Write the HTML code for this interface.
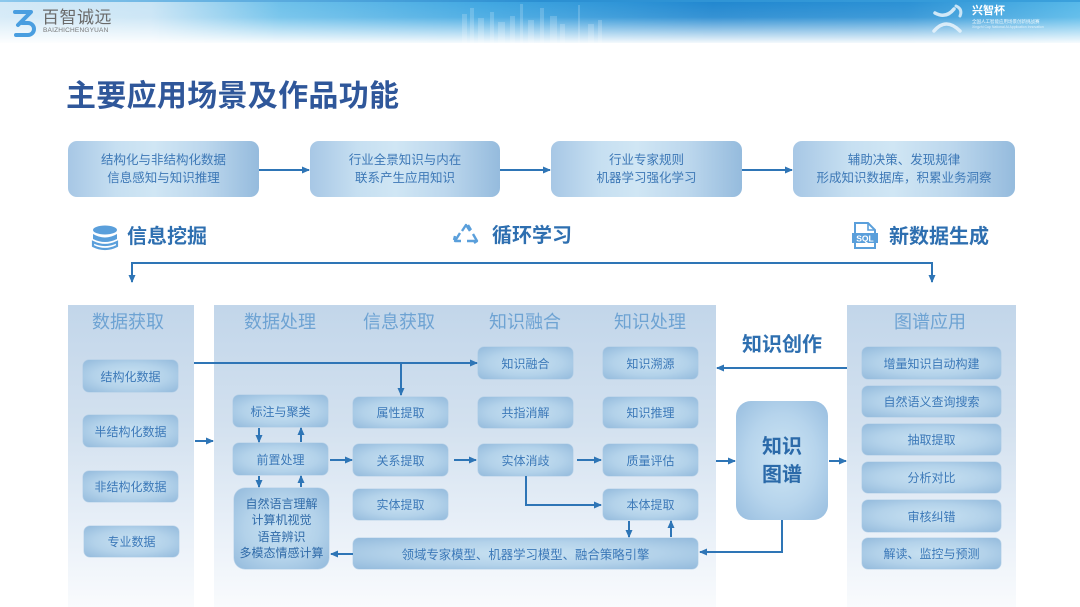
<!DOCTYPE html>
<html><head><meta charset="utf-8">
<style>
*{margin:0;padding:0;box-sizing:border-box}
body{width:1080px;height:607px;overflow:hidden;background:#fff;font-family:"Liberation Sans","Noto Sans CJK SC",sans-serif;position:relative}
.abs{position:absolute}
.banner{position:absolute;left:0;top:0;width:1080px;height:43px;
background:linear-gradient(to bottom,rgba(255,255,255,0) 0%,rgba(255,255,255,0.1) 40%,rgba(255,255,255,0.95) 100%),
linear-gradient(to right,#d3e9f7 0%,#c8e4f5 14%,#6cc0ea 26%,#3ea6e1 45%,#1f86cf 66%,#2990d4 84%,#55b8e9 100%);}
.bar{position:absolute;left:0;top:0;width:1080px;height:2px;background:linear-gradient(to right,#8cc8ec,#2b8fd2 50%,#3aa0dc)}
.title{position:absolute;left:66px;top:71px;font-size:30px;font-weight:bold;color:#2f579a;letter-spacing:0.3px;white-space:nowrap}
.fb{position:absolute;top:141px;height:56px;border-radius:9px;
background:linear-gradient(to right,#a7c7e5 0%,#c6dff1 25%,#d0e6f4 45%,#bcd7ed 72%,#95bbdd 100%);
color:#3d78b6;font-size:12.5px;line-height:18px;display:flex;align-items:center;justify-content:center;text-align:center}
.sec{position:absolute;font-size:20px;font-weight:bold;color:#2e6fb0;white-space:nowrap;line-height:24px}
.panel{position:absolute;top:305px;height:302px;background:linear-gradient(to bottom,#c2d6ea 0%,#d3e1ef 40%,#e6eef7 70%,#f9fbfd 100%)}
.pt{position:absolute;top:311px;font-size:18px;color:#6ea3d3;white-space:nowrap;transform:translateX(-50%);line-height:22px}
.b{position:absolute;border-radius:6px;background:radial-gradient(ellipse at 50% 50%,#c9e2f2 0%,#b3d2ea 55%,#93badc 100%);
color:#3b78b8;font-size:12px;display:flex;align-items:center;justify-content:center;text-align:center;white-space:nowrap;box-shadow:0 0 0 0.5px rgba(160,195,225,0.6)}
.kg{position:absolute;left:736px;top:401px;width:92px;height:119px;border-radius:15px;
background:radial-gradient(ellipse at 50% 50%,#cde5f4 0%,#b6d4ec 55%,#97bddf 100%);
color:#2b6aa9;font-size:20px;font-weight:bold;line-height:28px;display:flex;align-items:center;justify-content:center;text-align:center}
svg.ov{position:absolute;left:0;top:0}
</style></head>
<body>
<div class="banner"></div>
<div class="bar"></div>
<!-- skyline hint -->
<svg class="ov" width="1080" height="43" style="opacity:0.18">
<g fill="#ffffff">
<rect x="462" y="14" width="5" height="29"/><rect x="470" y="8" width="4" height="35"/><rect x="478" y="18" width="6" height="25"/>
<rect x="490" y="12" width="4" height="31"/><rect x="498" y="22" width="7" height="21"/><rect x="510" y="16" width="5" height="27"/>
<rect x="520" y="4" width="3" height="39"/><rect x="528" y="20" width="6" height="23"/><rect x="540" y="8" width="4" height="35"/>
<rect x="550" y="16" width="7" height="27"/><rect x="560" y="24" width="5" height="19"/><rect x="578" y="5" width="2" height="38"/>
<rect x="588" y="24" width="6" height="19"/><rect x="598" y="20" width="4" height="23"/>
</g></svg>
<!-- logo left -->
<svg class="ov" width="30" height="30" style="left:12px;top:9px">
<path d="M3 3 H19 L6 16" fill="none" stroke="#4a9ee0" stroke-width="4" stroke-linejoin="round" stroke-linecap="round"/>
<path d="M10 14 H16 A6 6 0 0 1 16 26 H4" fill="none" stroke="#4a9ee0" stroke-width="4" stroke-linecap="round"/>
</svg>
<div class="abs" style="left:42px;top:9px;font-size:17px;line-height:18px;color:#6a6a6a;letter-spacing:0.5px;white-space:nowrap">百智诚远</div>
<div class="abs" style="left:43px;top:27px;font-size:6.5px;line-height:7px;color:#777;letter-spacing:0.2px;white-space:nowrap">BAIZHICHENGYUAN</div>
<!-- logo right -->
<svg class="ov" width="40" height="36" style="left:930px;top:3px">
<path d="M5 10 Q16 16 24 6" fill="none" stroke="#eaf5fc" stroke-width="3.5" opacity="0.85" stroke-linecap="round"/>
<path d="M26 3 Q33 6 30 13" fill="none" stroke="#eaf5fc" stroke-width="3" opacity="0.8" stroke-linecap="round"/>
<path d="M4 28 Q16 14 30 28" fill="none" stroke="#eaf5fc" stroke-width="3.5" opacity="0.85" stroke-linecap="round"/>
</svg>
<div class="abs" style="left:972px;top:5px;font-size:11px;line-height:12px;font-weight:bold;color:#fff;white-space:nowrap">兴智杯</div>
<div class="abs" style="left:972px;top:19px;font-size:4.5px;line-height:5px;color:#fff;white-space:nowrap;opacity:0.9">全国人工智能应用场景创新挑战赛</div>
<div class="abs" style="left:972px;top:25px;font-size:3.5px;line-height:4px;color:#fff;white-space:nowrap;opacity:0.7">Xingzhi Cup National AI Application Innovation</div>

<div class="title">主要应用场景及作品功能</div>

<!-- top flow -->
<div class="fb" style="left:68px;width:191px">结构化与非结构化数据<br>信息感知与知识推理</div>
<div class="fb" style="left:310px;width:190px">行业全景知识与内在<br>联系产生应用知识</div>
<div class="fb" style="left:551px;width:191px">行业专家规则<br>机器学习强化学习</div>
<div class="fb" style="left:793px;width:222px">辅助决策、发现规律<br>形成知识数据库，积累业务洞察</div>

<!-- section heads -->
<svg class="ov" width="30" height="26" style="left:91px;top:225px">
<ellipse cx="14" cy="5" rx="12" ry="4.5" fill="#5a9fdb"/>
<path d="M2 9 Q14 16 26 9 V14 Q14 20 2 14 Z" fill="#5a9fdb"/>
<path d="M2 17 Q14 23 26 17 V21 Q14 27 2 21 Z" fill="none" stroke="#5a9fdb" stroke-width="2.2"/>
</svg>
<div class="sec" style="left:127px;top:225px">信息挖掘</div>
<svg class="ov" width="30" height="22" style="left:451px;top:222px">
<g fill="none" stroke="#5a9fdb" stroke-width="2.4" stroke-linejoin="round">
<path d="M11 9 L15 3 L19 9"/><path d="M17 3 L20 8"/>
<path d="M9 11 L4 19 H10"/><path d="M4 14 L3 18"/>
<path d="M16 19 H26 L22 12"/><path d="M23 21 L26 19"/>
</g></svg>
<div class="sec" style="left:492px;top:224px">循环学习</div>
<svg class="ov" width="26" height="28" style="left:852px;top:222px">
<path d="M3 1 H16 L23 8 V26 H3 Z" fill="#fff" stroke="#5a9fdb" stroke-width="2"/>
<path d="M16 1 V8 H23" fill="none" stroke="#5a9fdb" stroke-width="1.6"/>
<rect x="0" y="11" width="26" height="10" fill="#5a9fdb"/>
<text x="13" y="19.5" font-size="8.5" font-weight="bold" fill="#fff" text-anchor="middle" font-family="Liberation Sans,sans-serif">SQL</text>
</svg>
<div class="sec" style="left:889px;top:225px">新数据生成</div>

<!-- panels -->
<div class="panel" style="left:68px;width:126px"></div>
<div class="panel" style="left:214px;width:502px"></div>
<div class="panel" style="left:847px;width:169px"></div>

<div class="pt" style="left:128px">数据获取</div>
<div class="pt" style="left:280px">数据处理</div>
<div class="pt" style="left:399px">信息获取</div>
<div class="pt" style="left:525px">知识融合</div>
<div class="pt" style="left:650px">知识处理</div>
<div class="pt" style="left:930px">图谱应用</div>

<!-- left boxes -->
<div class="b" style="left:83px;top:360px;width:95px;height:32px">结构化数据</div>
<div class="b" style="left:83px;top:415px;width:95px;height:32px">半结构化数据</div>
<div class="b" style="left:83px;top:471px;width:95px;height:31px">非结构化数据</div>
<div class="b" style="left:84px;top:526px;width:95px;height:31px">专业数据</div>

<!-- 数据处理 -->
<div class="b" style="left:233px;top:395px;width:95px;height:32px">标注与聚类</div>
<div class="b" style="left:233px;top:443px;width:95px;height:32px">前置处理</div>
<div class="b" style="left:234px;top:488px;width:95px;height:81px;border-radius:11px;color:#2f6aa8;line-height:16.5px;flex-direction:column">自然语言理解<br>计算机视觉<br>语音辨识<br>多模态情感计算</div>

<!-- 信息获取 -->
<div class="b" style="left:353px;top:397px;width:95px;height:31px">属性提取</div>
<div class="b" style="left:353px;top:444px;width:95px;height:32px">关系提取</div>
<div class="b" style="left:353px;top:489px;width:95px;height:31px">实体提取</div>

<!-- 知识融合 -->
<div class="b" style="left:478px;top:347px;width:95px;height:32px">知识融合</div>
<div class="b" style="left:478px;top:397px;width:95px;height:31px">共指消解</div>
<div class="b" style="left:478px;top:444px;width:95px;height:32px">实体消歧</div>

<!-- 知识处理 -->
<div class="b" style="left:603px;top:347px;width:95px;height:32px">知识溯源</div>
<div class="b" style="left:603px;top:397px;width:95px;height:31px">知识推理</div>
<div class="b" style="left:603px;top:444px;width:95px;height:32px">质量评估</div>
<div class="b" style="left:603px;top:489px;width:95px;height:31px">本体提取</div>

<div class="b" style="left:353px;top:538px;width:345px;height:31px;font-size:12.4px">领域专家模型、机器学习模型、融合策略引擎</div>

<!-- 知识图谱 -->
<div class="sec" style="left:742px;top:333px">知识创作</div>
<div class="kg">知识<br>图谱</div>

<!-- 图谱应用 -->
<div class="b" style="left:862px;top:347px;width:139px;height:32px">增量知识自动构建</div>
<div class="b" style="left:862px;top:386px;width:139px;height:31px">自然语义查询搜索</div>
<div class="b" style="left:862px;top:424px;width:139px;height:31px">抽取提取</div>
<div class="b" style="left:862px;top:462px;width:139px;height:31px">分析对比</div>
<div class="b" style="left:862px;top:500px;width:139px;height:32px">审核纠错</div>
<div class="b" style="left:862px;top:538px;width:139px;height:31px">解读、监控与预测</div>

<!-- connectors -->
<svg class="ov" width="1080" height="607">
<defs>
<marker id="a" markerWidth="8" markerHeight="8" refX="7" refY="4" orient="auto" markerUnits="userSpaceOnUse">
<path d="M0 0.5 L8 4 L0 7.5 Z" fill="#2e75b6"/>
</marker>
</defs>
<g fill="none" stroke="#2e75b6" stroke-width="2">
<path d="M259 170 H309" marker-end="url(#a)"/>
<path d="M500 170 H550" marker-end="url(#a)"/>
<path d="M742 170 H792" marker-end="url(#a)"/>
<path d="M532 263 H132 V282" marker-end="url(#a)"/>
<path d="M530 263 H932 V282" marker-end="url(#a)"/>
<path d="M195 441 H213" marker-end="url(#a)"/>
<path d="M194 363 H477" marker-end="url(#a)"/>
<path d="M401 363 V395" marker-end="url(#a)"/>
<path d="M259 428 V442" marker-end="url(#a)"/>
<path d="M301 442 V428" marker-end="url(#a)"/>
<path d="M259 476 V487" marker-end="url(#a)"/>
<path d="M301 487 V476" marker-end="url(#a)"/>
<path d="M330 460 H352" marker-end="url(#a)"/>
<path d="M454 460 H476" marker-end="url(#a)"/>
<path d="M577 460 H601" marker-end="url(#a)"/>
<path d="M526 476 V505 H601" marker-end="url(#a)"/>
<path d="M629 521 V537" marker-end="url(#a)"/>
<path d="M671 537 V521" marker-end="url(#a)"/>
<path d="M353 554 H331" marker-end="url(#a)"/>
<path d="M716 461 H735" marker-end="url(#a)"/>
<path d="M829 461 H846" marker-end="url(#a)"/>
<path d="M782 520 V552 H700" marker-end="url(#a)"/>
<path d="M847 368 H717" marker-end="url(#a)"/>
</g>
</svg>
</body></html>
